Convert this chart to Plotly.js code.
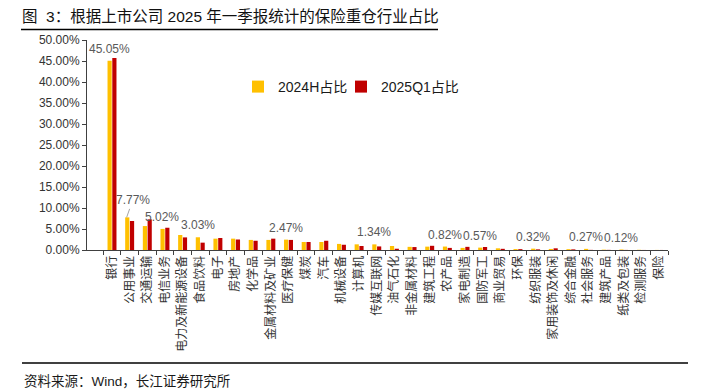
<!DOCTYPE html>
<html>
<head>
<meta charset="utf-8">
<script src="https://cdn.plot.ly/plotly-3.0.1.min.js"></script>
<style>
  html, body { margin: 0; padding: 0; background: #ffffff; }
  #chart { width: 703px; height: 391px; }
</style>
</head>
<body>
<div id="chart"></div>
<script>
// ---- data (percent values) ----
const categories = ['银行','公用事业','交通运输','电信业务','电力及新能源设备','食品饮料','电子','房地产','化学品','金属材料及矿业','医疗保健','煤炭','汽车','机械设备','计算机','传媒互联网','油气石化','非金属材料','建筑工程','农产品','家电制造','国防军工','商业贸易','环保','纺织服装','家用装饰及休闲','综合金融','社会服务','建筑产品','纸类及包装','检测服务','保险'];
const share2024H = [45.05, 7.77, 5.7, 5.02, 3.57, 3.03, 2.7, 2.7, 2.4, 2.4, 2.47, 1.9, 1.9, 1.45, 1.35, 1.34, 0.95, 0.75, 0.8, 0.82, 0.5, 0.57, 0.4, 0.22, 0.32, 0.25, 0.2, 0.27, 0.08, 0.12, 0.05, 0.02];
const share2025Q1 = [45.7, 6.9, 7.3, 5.3, 3.0, 1.75, 2.86, 2.5, 2.2, 2.7, 2.4, 1.9, 2.2, 1.25, 0.95, 0.85, 0.3, 0.7, 1.0, 0.5, 0.75, 0.72, 0.28, 0.2, 0.15, 0.4, 0.15, 0.03, 0.03, 0.02, 0.01, 0.01];
const labels2024H = ['45.05%','7.77%','','5.02%','','3.03%','','','','','2.47%','','','','','1.34%','','','','0.82%','','0.57%','','','0.32%','','','0.27%','','0.12%','',''];
const seriesNames = ['2024H占比', '2025Q1占比'];
const yTicks = [0,5,10,15,20,25,30,35,40,45,50];

const FONT = 'Liberation Sans, Arial, "Noto Sans CJK SC", sans-serif';

// plot area geometry (pixels)
const L = 87, R = 35, T = 40, B = 141, W = 703, H = 391;
const PW = W - L - R, PH = H - T - B;
const px = x => (x - L) / PW;
const py = y => (H - B - y) / PH;

const traces = [
  { type: 'bar', name: seriesNames[0], x: categories, y: share2024H, legend: 'legend',
    marker: { color: '#FFC000' }, hoverinfo: 'x+y' },
  { type: 'bar', name: seriesNames[1], x: categories, y: share2025Q1, legend: 'legend2',
    marker: { color: '#C00000' }, hoverinfo: 'x+y' }
];

const annotations = [];
labels2024H.forEach((t, i) => {
  if (!t) return;
  if (i === 1) {
    annotations.push({ x: categories[i], y: share2024H[i], xref: 'x', yref: 'y', text: t,
      showarrow: true, arrowhead: 0, arrowwidth: 0.8, arrowcolor: '#8c8c8c', standoff: 0,
      ax: 6, ay: -17, xshift: -3,
      font: { family: FONT, size: 12, color: '#595959' } });
  } else {
    annotations.push({ x: categories[i], y: share2024H[i], xref: 'x', yref: 'y', text: t,
      showarrow: false, xanchor: 'center', yanchor: 'bottom', xshift: -2.5, yshift: 3,
      font: { family: FONT, size: 12, color: '#595959' } });
  }
});
annotations.push({ xref: 'paper', yref: 'paper', x: px(22), y: py(381), xanchor: 'left', yanchor: 'middle',
  text: '资料来源：Wind，长江证券研究所', showarrow: false,
  font: { family: FONT, size: 13.5, color: '#1a1a1a' } });

const legendBase = { orientation: 'h', xanchor: 'left', yanchor: 'middle', y: py(87),
  font: { family: FONT, size: 14, color: '#1a1a1a' }, itemwidth: 30, bgcolor: 'rgba(0,0,0,0)' };

const layout = {
  width: W, height: H,
  margin: { l: L, r: R, t: T, b: B, pad: 0 },
  paper_bgcolor: '#ffffff', plot_bgcolor: '#ffffff',
  font: { family: FONT, color: '#333333' },
  title: { text: '图&nbsp;&nbsp;3：根据上市公司 2025 年一季报统计的保险重仓行业占比',
    xref: 'container', yref: 'container', x: 22 / W, y: 1 - 17 / H, xanchor: 'left', yanchor: 'middle',
    font: { family: FONT, size: 15.5, color: '#111111' } },
  barmode: 'group', bargap: 0.46, bargroupgap: 0.12,
  showlegend: true,
  legend: Object.assign({}, legendBase, { x: px(238) }),
  legend2: Object.assign({}, legendBase, { x: px(341) }),
  xaxis: { type: 'category', tickangle: -90, ticks: 'outside', tickson: 'boundaries', ticklen: 4,
    tickcolor: '#404040', showline: true, linecolor: '#404040', linewidth: 1, showgrid: false,
    tickfont: { family: FONT, size: 12, color: '#333333' }, automargin: false, fixedrange: true },
  yaxis: { range: [0, 50], tickvals: yTicks, ticktext: yTicks.map(v => v.toFixed(2) + '%'),
    ticks: 'outside', ticklen: 4, tickcolor: '#404040', showline: true, linecolor: '#404040', linewidth: 1,
    showgrid: false, zeroline: false, tickfont: { family: FONT, size: 12, color: '#333333' },
    automargin: false, fixedrange: true },
  annotations: annotations,
  shapes: [
    { type: 'line', xref: 'paper', yref: 'paper', x0: px(21), x1: px(438), y0: py(29.5), y1: py(29.5),
      line: { color: '#000000', width: 1.3 } },
    { type: 'line', xref: 'paper', yref: 'paper', x0: px(22), x1: px(688), y0: py(363), y1: py(363),
      line: { color: '#000000', width: 1.3 } }
  ]
};

Plotly.newPlot('chart', traces, layout, { displayModeBar: false, staticPlot: true });
</script>
</body>
</html>
